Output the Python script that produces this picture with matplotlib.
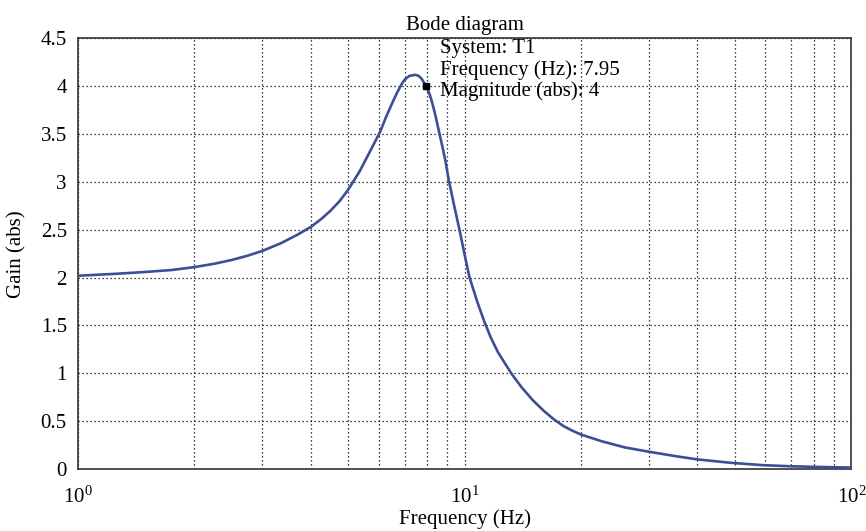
import matplotlib
matplotlib.use("Agg")
import matplotlib.pyplot as plt
from matplotlib.ticker import LogLocator, FixedLocator

# values
freq_hz = [1.0, 1.25, 1.5, 1.75, 2.0, 2.25, 2.5, 2.75, 3.0, 3.35, 3.7, 4.0,
           4.25, 4.5, 4.75, 5.0, 5.35, 5.71, 6.04, 6.25, 6.49, 6.7, 6.89,
           7.0, 7.2, 7.45, 7.6, 7.74, 7.95, 8.1, 8.23, 8.4, 8.57, 8.75, 8.92,
           9.1, 9.4, 9.7, 10.0, 10.3, 10.8, 11.27, 11.7, 12.2, 13.2, 14.0,
           15.0, 16.0, 17.0, 18.0, 19.0, 20.0, 22.6, 26.0, 30.0, 35.0, 40.0,
           48.6, 59.0, 70.0, 90.0, 100.0]
gain_abs = [2.02, 2.04, 2.06, 2.08, 2.11, 2.145, 2.185, 2.23, 2.28, 2.36,
            2.45, 2.53, 2.61, 2.70, 2.80, 2.92, 3.11, 3.33, 3.52, 3.67, 3.82,
            3.94, 4.03, 4.07, 4.11, 4.12, 4.11, 4.08, 4.00, 3.93, 3.84, 3.70,
            3.54, 3.38, 3.22, 3.02, 2.75, 2.50, 2.24, 2.00, 1.74, 1.53, 1.37,
            1.22, 1.00, 0.86, 0.72, 0.61, 0.52, 0.45, 0.40, 0.36, 0.29, 0.225,
            0.18, 0.135, 0.10, 0.065, 0.04, 0.028, 0.018, 0.015]

tip_freq = 7.95
tip_gain = 4.0
tip_lines = ["System: T1", "Frequency (Hz): 7.95", "Magnitude (abs): 4"]
y_ticks = [0, 0.5, 1, 1.5, 2, 2.5, 3, 3.5, 4, 4.5]
y_tick_labels = ["0", "0.5", "1", "1.5", "2", "2.5", "3", "3.5", "4", "4.5"]

plt.rcParams["font.family"] = ["Liberation Serif", "DejaVu Serif"]
plt.rcParams["mathtext.fontset"] = "stix"
FS = 15

fig = plt.figure(figsize=(8.66, 5.31), dpi=100)
ax = fig.add_axes([0.090, 0.1168, 0.893, 0.8107])

ax.plot(freq_hz, gain_abs, color="#3c4f95", lw=1.9, zorder=3)
ax.plot([tip_freq], [tip_gain], marker="s", color="black", ms=4, zorder=4)

ax.set_xscale("log")
ax.set_xlim(1, 100)
ax.set_ylim(0, 4.5)
ax.yaxis.set_major_locator(FixedLocator(y_ticks))
ax.set_yticklabels(y_tick_labels)
ax.xaxis.set_major_locator(LogLocator(base=10, numticks=5))
ax.xaxis.set_minor_locator(LogLocator(base=10, subs=range(2, 10), numticks=20))

grid_kw = dict(color="black", lw=0.9, linestyle=(0, (1, 2.2)))
ax.grid(True, which="major", axis="both", **grid_kw)
ax.grid(True, which="minor", axis="x", **grid_kw)

ax.tick_params(which="both", length=0, labelsize=FS)
ax.tick_params(axis="x", pad=13)
ax.tick_params(axis="y", pad=8)
for s in ax.spines.values():
    s.set_color("#333333")
    s.set_linewidth(1.2)

ax.set_title("Bode diagram", fontsize=FS, pad=6)
ax.set_xlabel("Frequency (Hz)", fontsize=FS, labelpad=1)
ax.set_ylabel("Gain (abs)", fontsize=FS, labelpad=10)

ax.text(8.65, 4.49, "\n".join(tip_lines), fontsize=FS, va="top", ha="left",
        linespacing=1.1, zorder=5)

fig.savefig("out.png", dpi=100)
